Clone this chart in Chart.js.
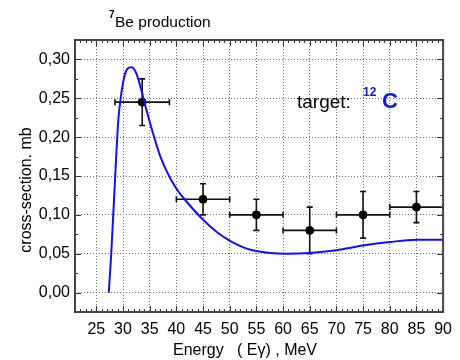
<!DOCTYPE html>
<html>
<head>
<meta charset="utf-8">
<script src="https://cdn.jsdelivr.net/npm/chart.js@4.4.1/dist/chart.umd.min.js"></script>
<style>
  html, body { margin: 0; padding: 0; background: #fff; }
  #wrap { width: 460px; height: 360px; }
</style>
</head>
<body>
<div id="wrap"><canvas id="chart"></canvas></div>
<script>
  // experimental points (7Be production on 12C)
  const expE = [33.6, 45, 55, 65, 75, 85];
  const expSigma = [0.245, 0.12, 0.10, 0.08, 0.10, 0.11];
  const expELow = [28.5, 40, 50, 60, 70, 80];
  const expEHigh = [38.7, 50, 60, 70, 80, 90];
  const expSigmaErr = [0.03, 0.02, 0.02, 0.03, 0.03, 0.02];

  // calculated curve
  const curveE = [27.33, 27.77, 28.25, 28.69, 29.12, 29.6, 30.22, 30.83, 31.57, 32.38,
    33.31, 34.23, 35.45, 37.0, 38.85, 40.38, 41.3, 44.68, 47.76, 50.22,
    53.9, 57.6, 60.68, 64.99, 70, 75, 80, 85, 90];
  const curveSigma = [0, 0.047, 0.111, 0.171, 0.222, 0.252, 0.277, 0.288, 0.290, 0.284,
    0.264, 0.239, 0.209, 0.175, 0.147, 0.130, 0.122, 0.096, 0.077, 0.066,
    0.055, 0.051, 0.050, 0.051, 0.0545, 0.0605, 0.065, 0.068, 0.068];

  const xTicks = [25, 30, 35, 40, 45, 50, 55, 60, 65, 70, 75, 80, 85, 90];
  const yTicks = [0, 0.05, 0.10, 0.15, 0.20, 0.25, 0.30];

  const FONT = "'Liberation Sans', Arial, sans-serif";

  const fmt = (v) => v.toFixed(2).replace('.', ',');

  // frame, inward ticks, error bars and the texts
  const decor = {
    id: 'decor',
    beforeDatasetsDraw(chart) {
      const ctx = chart.ctx;
      const xs = chart.scales.x, ys = chart.scales.y;
      ctx.save();
      ctx.strokeStyle = '#111';
      ctx.lineWidth = 1.6;
      for (let i = 0; i < expE.length; i++) {
        const px = xs.getPixelForValue(expE[i]);
        const py = ys.getPixelForValue(expSigma[i]);
        const x1 = xs.getPixelForValue(expELow[i]);
        const x2 = xs.getPixelForValue(expEHigh[i]);
        const y1 = ys.getPixelForValue(expSigma[i] - expSigmaErr[i]);
        const y2 = ys.getPixelForValue(expSigma[i] + expSigmaErr[i]);
        ctx.beginPath();
        ctx.moveTo(x1, py); ctx.lineTo(x2, py);
        ctx.moveTo(x1, py - 3); ctx.lineTo(x1, py + 3);
        ctx.moveTo(x2, py - 3); ctx.lineTo(x2, py + 3);
        ctx.moveTo(px, y1); ctx.lineTo(px, y2);
        ctx.moveTo(px - 3, y1); ctx.lineTo(px + 3, y1);
        ctx.moveTo(px - 3, y2); ctx.lineTo(px + 3, y2);
        ctx.stroke();
      }
      ctx.restore();
    },
    afterDraw(chart) {
      const ctx = chart.ctx;
      const a = chart.chartArea;
      const xs = chart.scales.x, ys = chart.scales.y;
      ctx.save();
      ctx.strokeStyle = '#333';
      ctx.lineWidth = 1;
      ctx.beginPath();
      // x ticks, every 1 MeV minor, every 5 major
      for (let e = Math.ceil(xs.min); e <= xs.max; e++) {
        const px = Math.round(xs.getPixelForValue(e)) + 0.5;
        const len = e % 5 === 0 ? 6 : 3;
        ctx.moveTo(px, a.bottom); ctx.lineTo(px, a.bottom - len);
        ctx.moveTo(px, a.top); ctx.lineTo(px, a.top + len);
      }
      // y ticks, every 0.025
      for (let k = -1; k <= 13; k++) {
        const v = k * 0.025;
        if (v < ys.min || v > ys.max) continue;
        const py = Math.round(ys.getPixelForValue(v)) + 0.5;
        const len = k % 2 === 0 ? 6 : 3;
        ctx.moveTo(a.left, py); ctx.lineTo(a.left + len, py);
        ctx.moveTo(a.right, py); ctx.lineTo(a.right - len, py);
      }
      ctx.stroke();
      ctx.lineWidth = 2;
      ctx.strokeStyle = '#444';
      ctx.strokeRect(a.left, a.top, a.right - a.left, a.bottom - a.top);

      // title
      ctx.fillStyle = '#000';
      ctx.textBaseline = 'alphabetic';
      ctx.textAlign = 'left';
      ctx.font = 'bold 10px ' + FONT;
      ctx.fillText('7', 109, 18);
      ctx.font = '15.5px ' + FONT;
      ctx.fillText('Be production', 115, 27);

      // target label
      ctx.font = '19px ' + FONT;
      ctx.fillText('target:', 297, 108);
      ctx.fillStyle = '#0a14f0';
      ctx.font = 'bold 12px ' + FONT;
      ctx.fillText('12', 363, 96);
      ctx.font = 'bold 22px ' + FONT;
      ctx.fillText('C', 382, 108);

      // axis titles
      ctx.fillStyle = '#000';
      ctx.font = '16px ' + FONT;
      ctx.fillText('Energy   ( E\u03b3) , MeV', 173, 355);
      ctx.save();
      ctx.translate(31, 190);
      ctx.rotate(-Math.PI / 2);
      ctx.textAlign = 'center';
      ctx.fillText('cross-section. mb', 0, 0);
      ctx.restore();
      ctx.restore();
    }
  };

  const gridStyle = {
    color: '#6e6e6e',
    lineWidth: 1,
    drawTicks: false
  };

  new Chart(document.getElementById('chart'), {
    type: 'scatter',
    data: {
      datasets: [
        {
          label: 'calculation',
          data: curveE.map((e, i) => ({ x: e, y: curveSigma[i] })),
          showLine: true,
          borderColor: '#1010f0',
          borderWidth: 2,
          pointRadius: 0,
          cubicInterpolationMode: 'monotone'
        },
        {
          label: 'experiment',
          data: expE.map((e, i) => ({ x: e, y: expSigma[i] })),
          pointStyle: 'circle',
          pointRadius: 4,
          backgroundColor: '#000',
          borderColor: '#000'
        }
      ]
    },
    options: {
      responsive: true,
      maintainAspectRatio: false,
      animation: false,
      layout: { padding: { top: 40, right: 11, left: 0, bottom: 0 } },
      plugins: {
        legend: { display: false },
        tooltip: { enabled: false }
      },
      scales: {
        x: {
          type: 'linear',
          min: 21,
          max: 90,
          afterBuildTicks: (s) => { s.ticks = xTicks.map((v) => ({ value: v })); },
          afterFit: (s) => { s.height = 48; },
          grid: Object.assign({}, gridStyle),
          border: { display: false, dash: [1, 2] },
          ticks: {
            padding: 8,
            maxRotation: 0,
            autoSkip: false,
            color: '#000',
            font: { family: FONT, size: 16 },
            callback: (v) => String(v)
          }
        },
        y: {
          type: 'linear',
          min: -0.025,
          max: 0.325,
          afterBuildTicks: (s) => { s.ticks = yTicks.map((v) => ({ value: v })); },
          afterFit: (s) => { s.width = 75; },
          grid: Object.assign({}, gridStyle),
          border: { display: false, dash: [1, 2] },
          ticks: {
            padding: 5,
            autoSkip: false,
            color: '#000',
            font: { family: FONT, size: 16 },
            callback: (v) => fmt(v)
          }
        }
      }
    },
    plugins: [decor]
  });
</script>
</body>
</html>
